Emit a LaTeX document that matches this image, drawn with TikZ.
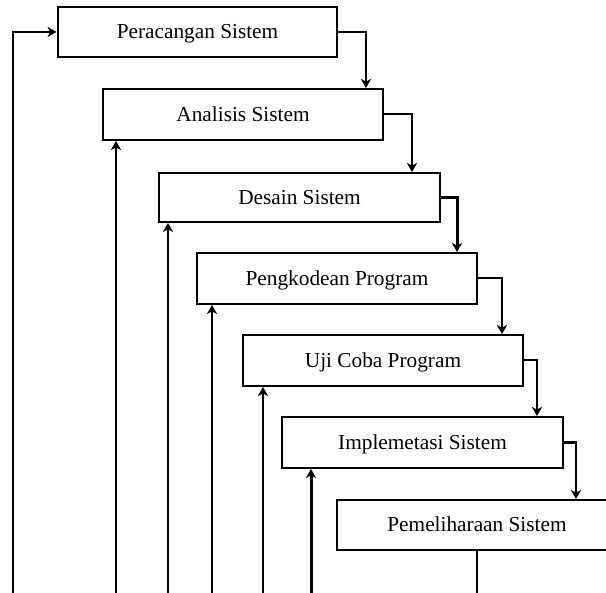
\documentclass[tikz,border=0pt]{standalone}
\usepackage{fontspec}
\setmainfont{Liberation Serif}
\usetikzlibrary{arrows.meta}
\begin{document}
\begin{tikzpicture}[x=1pt,y=-1pt,
  stagebox/.style={draw,line width=1.9pt,minimum width=280pt,minimum height=50pt,inner sep=0pt,
    text height=16pt,text depth=2pt,font=\fontsize{21.3}{25}\selectfont},
  arr/.style={line width=2pt,-{Stealth[length=9pt,width=10pt,inset=2.5pt]}},
  plain/.style={line width=2pt}]
\useasboundingbox (0,0) rectangle (606,593);
\begin{scope}
\clip (0,0) rectangle (606,593);
\node[stagebox,line width=2.8pt,minimum width=279pt] (A) at (197.5,32) {Peracangan Sistem};
\node[stagebox,minimum height=51pt] (B) at (243,114.5) {Analisis Sistem};
\node[stagebox,minimum height=49pt,minimum width=281pt] (C) at (299.5,197.5) {Desain Sistem};
\node[stagebox,minimum height=51pt] (D) at (337,278.5) {Pengkodean Program};
\node[stagebox,minimum height=51pt] (E) at (383,360.5) {Uji Coba Program};
\node[stagebox,minimum height=51pt,minimum width=281pt] (F) at (422.5,442.5) {Implemetasi Sistem};
\node[stagebox] (G) at (477,525) {Pemeliharaan Sistem};

\coordinate (kAB) at (366,0);
\coordinate (kBC) at (412,0);
\coordinate (kCD) at (457,0);
\coordinate (kDE) at (502,0);
\coordinate (kEF) at (537,0);
\coordinate (kFG) at (576,0);
\draw[arr] (A.east) -| (B.north -| kAB);
\draw[arr] (B.east) -| (C.north -| kBC);
\draw[arr,line width=3pt] (C.east) -| (D.north -| kCD);
\draw[arr] (D.east) -| (E.north -| kDE);
\draw[arr] (E.east) -| (F.north -| kEF);
\draw[arr,line width=2.6pt] (F.east) -| (G.north -| kFG);

\coordinate (b0) at (13,593);
\coordinate (b1) at (116,593);
\coordinate (b2) at (168,593);
\coordinate (b3) at (212,593);
\coordinate (b4) at (263,593);
\coordinate (b5) at (311,593);
\draw[arr] (b0) |- (A.west);
\draw[arr] (b1) -- (b1 |- B.south);
\draw[arr] (b2) -- (b2 |- C.south);
\draw[arr] (b3) -- (b3 |- D.south);
\draw[arr] (b4) -- (b4 |- E.south);
\draw[arr,line width=3pt] (b5) -- (b5 |- F.south);
\draw[plain] (G.south) -- (G.south |- b0);
\end{scope}
\end{tikzpicture}
\end{document}
